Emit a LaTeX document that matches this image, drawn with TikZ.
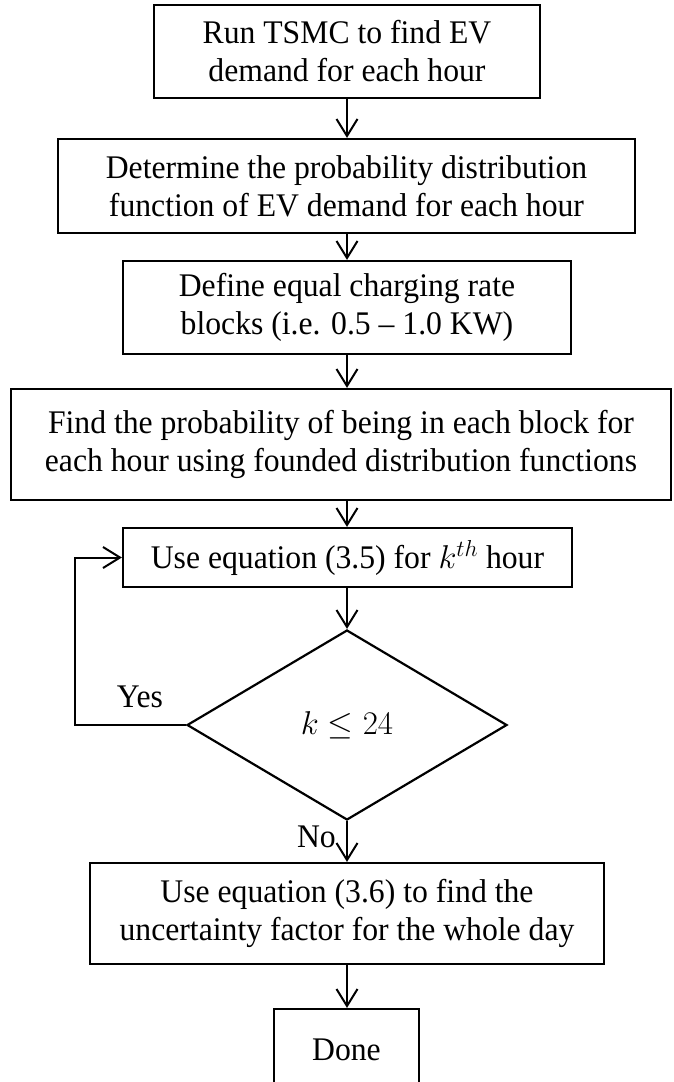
\RequirePackage{fix-cm}
\documentclass[tikz,border=0pt]{standalone}
\usepackage{fontspec}
\setmainfont{Liberation Serif}[FakeStretch=0.96]
\usetikzlibrary{shapes.geometric,arrows.meta}

\begin{document}
\begin{tikzpicture}[x=1pt,y=-1pt]
  % Parameters
  \def\boxline{2.2pt}
  \def\flowline{2pt}

  % Styles for the flowchart
  \tikzset{
    stepbox/.style={draw, line width=\boxline, rectangle, align=center, inner sep=0pt,
      font=\fontsize{33}{38}\selectfont},
    decision/.style={draw, line width=\boxline, diamond, inner sep=0pt,
      font=\fontsize{33}{38}\selectfont},
    flow/.style={line width=\flowline, -{Straight Barb[length=17pt,width=21pt]}},
    lbl/.style={font=\fontsize{33}{38}\selectfont, inner sep=0pt}
  }

  \useasboundingbox (0,0) rectangle (674,1082);

  % Process boxes
  \node[stepbox, minimum width=386pt, minimum height=93pt] (run) at (347,51.5)
    {Run TSMC to find EV\\demand for each hour};
  \node[stepbox, minimum width=577pt, minimum height=94pt] (pdf) at (346.5,186)
    {Determine the probability distribution\\function of EV demand for each hour};
  \node[stepbox, minimum width=448pt, minimum height=93pt] (blocks) at (347,307.5)
    {Define equal charging rate\\blocks (i.e. 0.5 -- 1.0 KW)};
  \node[stepbox, minimum width=660pt, minimum height=111pt] (prob) at (341,444.5)
    {Find the probability of being in each block for\\each hour using founded distribution functions};
  \node[stepbox, minimum width=449pt, minimum height=59pt] (eq35) at (347.5,557.5)
    {Use equation (3.5) for $k^{th}$ hour};
  \node[decision, minimum width=320pt, minimum height=190pt] (cond) at (347,725)
    {$k \leq 24$};
  \node[stepbox, minimum width=514pt, minimum height=101pt] (eq36) at (347,913.5)
    {Use equation (3.6) to find the\\uncertainty factor for the whole day};
  \node[stepbox, minimum width=145pt, minimum height=82pt] (done) at (346.5,1050)
    {Done};

  % Labels
  \node[lbl] (yes) at (140,697) {Yes};
  \node[lbl, anchor=east] (no) at (336,837) {No};

  % Arrows down the main axis
  \foreach \a/\b in {run/pdf, pdf/blocks, blocks/prob, prob/eq35, eq35/cond, cond/eq36, eq36/done} {
    \draw[flow] (run.south |- \a.south) -- (run.south |- \b.north);
  }

  % Loop back for the next hour
  \coordinate (loop) at (75,725);
  \draw[flow] (cond.west) -- (loop) |- (eq35.west);

\end{tikzpicture}
\end{document}
